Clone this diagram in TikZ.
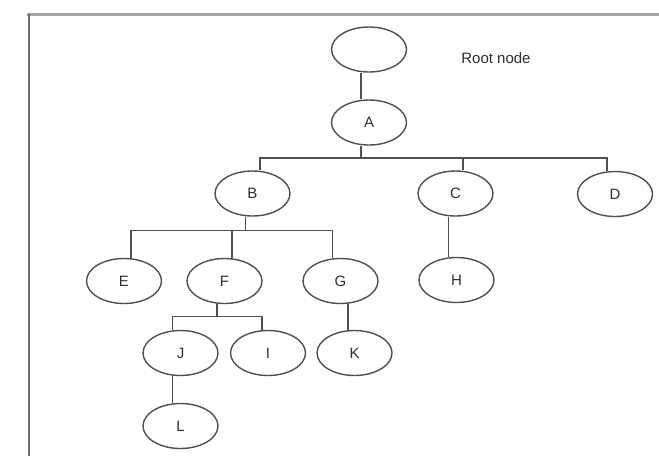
\documentclass[tikz,border=0pt]{standalone}
\usepackage{fontspec}
\setmainfont{Liberation Sans}
\usetikzlibrary{shapes.geometric}
\definecolor{inkline}{HTML}{505050}
\definecolor{inktext}{HTML}{303030}
\definecolor{frametop}{HTML}{A6A6A6}
\definecolor{frameleft}{HTML}{6E6E6E}
\begin{document}
\begin{tikzpicture}[x=1pt,y=-1pt,
  treenode/.style={ellipse,draw=inkline,line width=1.4pt,minimum width=75pt,
    minimum height=45pt,inner sep=0pt,text=inktext,font=\fontsize{15}{15}\selectfont},
  edge/.style={draw=inkline,line width=1.5pt},
  caption/.style={text=inktext,font=\fontsize{15}{15}\selectfont}]
\useasboundingbox (0,0) rectangle (659,456);
\fill[white] (0,0) rectangle (659,456);

% window frame (top and left edges)
\draw[frametop,line width=3pt] (27,14.5) -- (659,14.5);
\draw[frameleft,line width=2.6pt] (29,13.5) -- (29,456);

% nodes
\node[treenode] (root) at (369,49.5) {};
\node[caption] (rootlabel) at (496,58) {Root node};
\node[treenode] (A) at (369,122.5) {A};
\node[treenode] (B) at (252.5,193.5) {B};
\node[treenode] (C) at (455.5,193.5) {C};
\node[treenode] (D) at (615,194) {D};
\node[treenode] (E) at (124,281) {E};
\node[treenode] (F) at (224.5,281) {F};
\node[treenode] (G) at (340.5,281) {G};
\node[treenode] (H) at (456.5,280) {H};
\node[treenode] (J) at (180.5,353) {J};
\node[treenode] (I) at (268,353) {I};
\node[treenode] (K) at (354.5,353) {K};
\node[treenode] (L) at (180.5,426) {L};

% bus heights
\coordinate (busA) at (0,158);
\coordinate (busB) at (0,230.5);
\coordinate (busF) at (0,316.5);

% attachment points
\coordinate (rootout) at ([xshift=-8pt]root.south);
\coordinate (Ain) at ([xshift=-8pt]A.north);
\coordinate (Aout) at ([xshift=-8pt]A.south);
\coordinate (Bin) at ([xshift=7.5pt]B.north);
\coordinate (Bout) at ([xshift=-7pt]B.south);
\coordinate (Cin) at ([xshift=7.5pt]C.north);
\coordinate (Cout) at ([xshift=-7pt]C.south);
\coordinate (Din) at ([xshift=-8pt]D.north);
\coordinate (Ein) at ([xshift=7pt]E.north);
\coordinate (Fin) at ([xshift=7.5pt]F.north);
\coordinate (Fout) at ([xshift=-7.5pt]F.south);
\coordinate (Gin) at ([xshift=-8pt]G.north);
\coordinate (Gout) at ([xshift=7.5pt]G.south);
\coordinate (Hin) at (Cout |- H.north);
\coordinate (Jin) at ([xshift=-8pt]J.north);
\coordinate (Jout) at ([xshift=-8pt]J.south);
\coordinate (Iin) at ([xshift=-6pt]I.north);
\coordinate (Kin) at (Gout |- K.north);
\coordinate (Lin) at (Jout |- L.north);

% connectors
\draw[edge] (rootout) -- (Ain);
\draw[edge] (Aout) -- (Aout |- busA);
\draw[edge] (Bin) -- (Bin |- busA) -- (Din |- busA) -- (Din);
\draw[edge] (Cin) -- (Cin |- busA);
\draw[edge] (Bout) -- (Bout |- busB);
\draw[edge] (Ein) -- (Ein |- busB) -- (Gin |- busB) -- (Gin);
\draw[edge] (Fin) -- (Fin |- busB);
\draw[edge] (Cout) -- (Hin);
\draw[edge] (Fout) -- (Fout |- busF);
\draw[edge] (Jin) -- (Jin |- busF) -- (Iin |- busF) -- (Iin);
\draw[edge] (Gout) -- (Kin);
\draw[edge] (Jout) -- (Lin);
\end{tikzpicture}
\end{document}
